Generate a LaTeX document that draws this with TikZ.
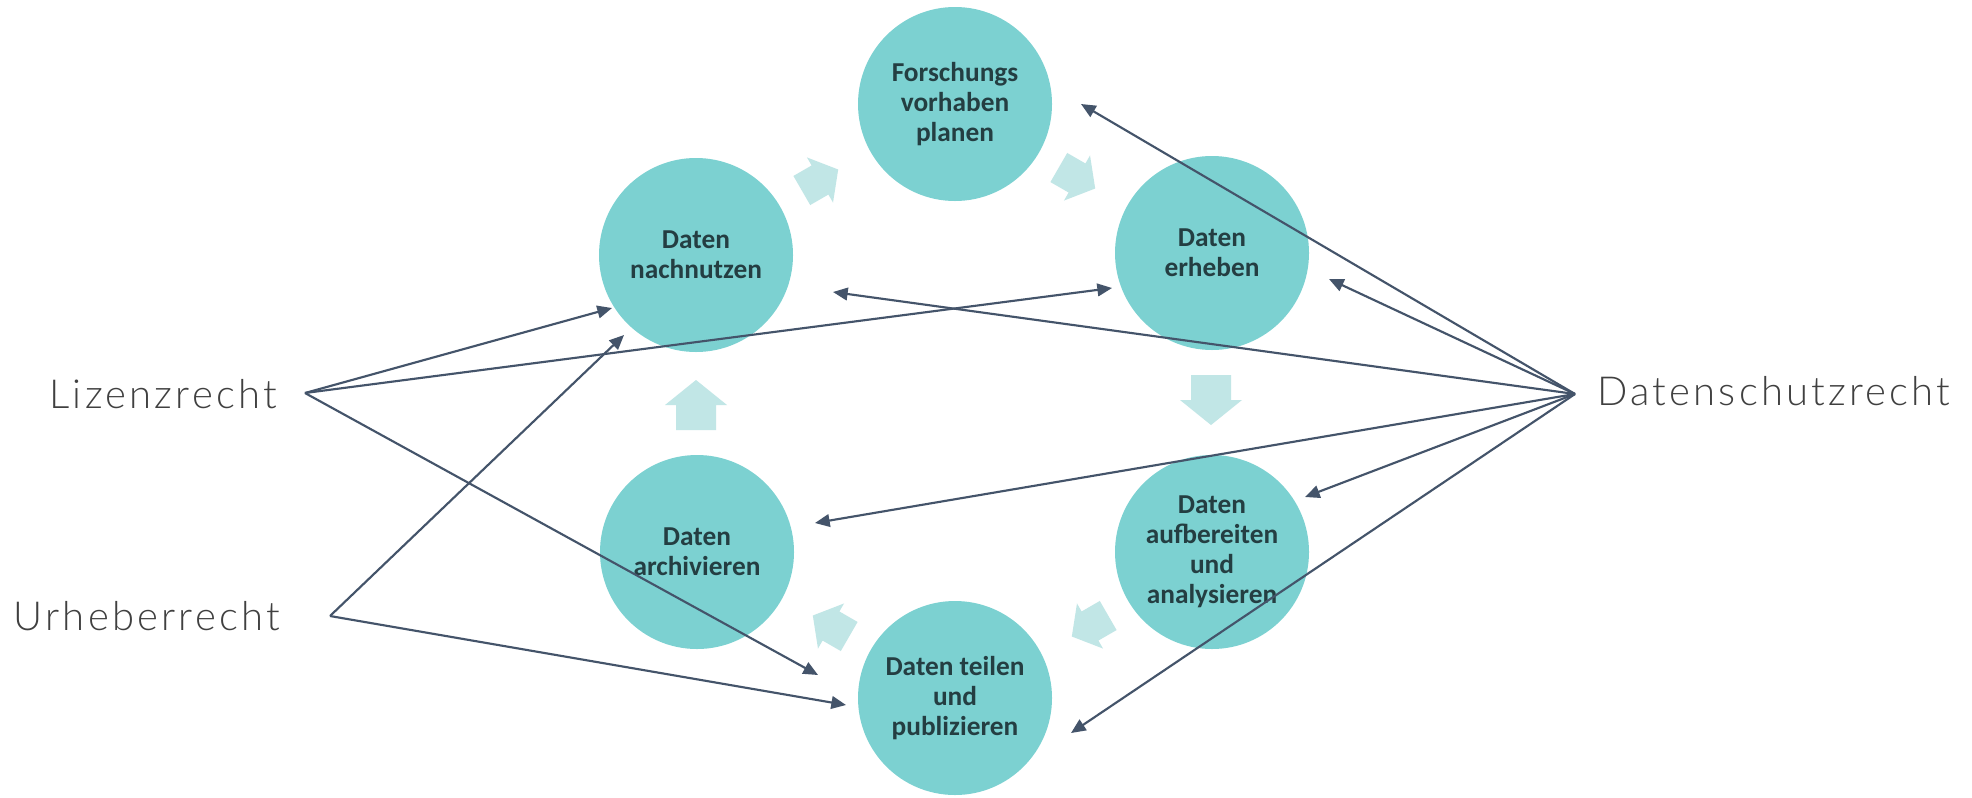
\documentclass[tikz,border=0pt]{standalone}
\usepackage{fontspec}
\usetikzlibrary{arrows.meta}
\IfFontExistsTF{Lato Light}{\newfontfamily\lblfont[LetterSpace=8]{Lato Light}}{\newfontfamily\lblfont[LetterSpace=6]{Lato}}
\newfontfamily\circfont{Carlito}
\definecolor{circfill}{RGB}{124,209,209}
\definecolor{circtext}{RGB}{36,62,66}
\definecolor{cycfill}{RGB}{193,230,230}
\definecolor{connc}{HTML}{44546A}
\definecolor{lblc}{RGB}{64,64,64}
\tikzset{
  circ/.style={circle, fill=circfill, minimum size=145.5pt, inner sep=0pt, align=center,
    text=circtext, font=\circfont\bfseries\fontsize{20.5}{22.5}\selectfont},
  lbl/.style={text=lblc, font=\lblfont\fontsize{30}{36}\selectfont, inner sep=0pt},
  conn/.style={draw=connc, line width=1.6pt, -{Triangle[length=11pt,width=9.5pt]}},
  cycarrow/.pic={\fill[cycfill] (-25,-20) -- (0,-20) -- (0,-31) -- (25,0) -- (0,31) -- (0,20) -- (-25,20) -- cycle;}
}
\begin{document}
\begin{tikzpicture}[x=0.75pt,y=-0.75pt]
\fill[white] (0,0) rectangle (1972,797);
\useasboundingbox (0,0) rectangle (1972,797);

% cycle arrows
\pic[rotate=30, scale=0.84] at (820,180) {cycarrow};
\pic[rotate=-30, scale=0.84] at (1077,178) {cycarrow};
\pic[rotate=-90] at (1211,400) {cycarrow};
\pic[rotate=210, scale=0.84] at (1090,626) {cycarrow};
\pic[rotate=150, scale=0.84] at (831,626) {cycarrow};
\pic[rotate=90] at (696,405) {cycarrow};

% circles
\node[circ] (F) at (955,104) {Forschungs\\vorhaben\\planen};
\node[circ] (N) at (696,255) {Daten\\nachnutzen};
\node[circ] (E) at (1212,253) {Daten\\erheben};
\node[circ] (A) at (1212,552) {Daten\\aufbereiten\\und\\analysieren};
\node[circ] (R) at (697,552) {Daten\\archivieren};
\node[circ] (T) at (955,698) {Daten teilen\\und\\publizieren};

% labels
\node[lbl, anchor=base east] (lz) at (277,408) {Lizenzrecht};
\node[lbl, anchor=base east] (ur) at (280,630) {Urheberrecht};
\node[lbl, anchor=base west] (ds) at (1597,405) {Datenschutzrecht};

% hubs
\coordinate (hL) at (305,393);
\coordinate (hU) at (330,616);
\coordinate (hD) at (1575,394);

% tips
\coordinate (tLN) at (612,308);
\coordinate (tLE) at (1112,288);
\coordinate (tLT) at (818,675);
\coordinate (tUN) at (624,335);
\coordinate (tUT) at (846,705);
\coordinate (tDF) at (1081,104);
\coordinate (tDE) at (1329,279);
\coordinate (tDN) at (833,292);
\coordinate (tDR) at (815,523);
\coordinate (tDA) at (1305,497);
\coordinate (tDT) at (1071,733);

\draw[conn] (hL) -- (tLN);
\draw[conn] (hL) -- (tLE);
\draw[conn] (hL) -- (tLT);
\draw[conn] (hU) -- (tUN);
\draw[conn] (hU) -- (tUT);
\draw[conn] (hD) -- (tDF);
\draw[conn] (hD) -- (tDE);
\draw[conn] (hD) -- (tDN);
\draw[conn] (hD) -- (tDR);
\draw[conn] (hD) -- (tDA);
\draw[conn] (hD) -- (tDT);
\end{tikzpicture}
\end{document}
